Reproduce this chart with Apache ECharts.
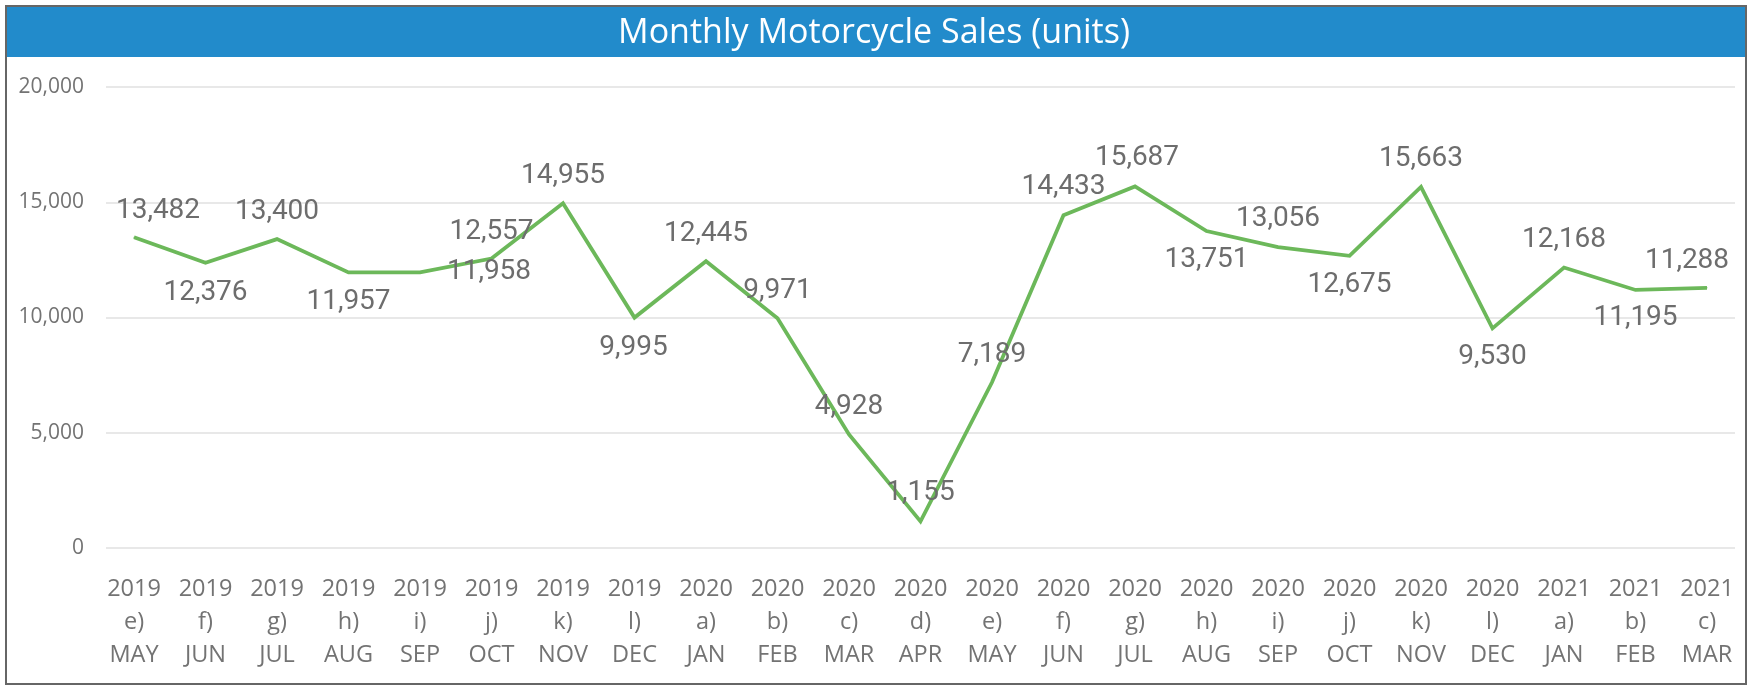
<!DOCTYPE html>
<html>
<head>
<meta charset="utf-8">
<title>Monthly Motorcycle Sales (units)</title>
<script src="https://cdn.jsdelivr.net/npm/echarts@6/dist/echarts.min.js"></script>
<style>
  html, body { margin: 0; padding: 0; background: #fff; }
  #chart { width: 1748px; height: 686px; }
</style>
</head>
<body>
<div id="chart"></div>
<script>
// month axis, three rows per tick
const years = ['2019', '2019', '2019', '2019', '2019', '2019', '2019', '2019',
  '2020', '2020', '2020', '2020', '2020', '2020', '2020', '2020', '2020', '2020', '2020', '2020',
  '2021', '2021', '2021'];
const codes = ['e)', 'f)', 'g)', 'h)', 'i)', 'j)', 'k)', 'l)',
  'a)', 'b)', 'c)', 'd)', 'e)', 'f)', 'g)', 'h)', 'i)', 'j)', 'k)', 'l)',
  'a)', 'b)', 'c)'];
const months = ['MAY', 'JUN', 'JUL', 'AUG', 'SEP', 'OCT', 'NOV', 'DEC',
  'JAN', 'FEB', 'MAR', 'APR', 'MAY', 'JUN', 'JUL', 'AUG', 'SEP', 'OCT', 'NOV', 'DEC',
  'JAN', 'FEB', 'MAR'];

const sales = [13482, 12376, 13400, 11957, 11958, 12557, 14955, 9995,
  12445, 9971, 4928, 1155, 7189, 14433, 15687, 13751, 13056, 12675, 15663, 9530,
  12168, 11195, 11288];

const yTicks = [0, 5000, 10000, 15000, 20000];

// where each data label sits relative to its point (px)
const labelOffsets = [
  [24, -26], [0, 30], [0, -27], [0, 30], [69, 0], [0, -27], [0, -27], [-1, 30],
  [0, -27], [0, -27], [0, -27], [0, -28], [0, -27], [0, -28], [2, -28], [0, 29],
  [0, -28], [0, 29], [0, -28], [0, 29], [0, -28], [0, 28], [-20, -27]
];

const fmt = (v) => Number(v).toLocaleString('en-US');
const categories = months.map((m, i) => years[i] + '\n' + codes[i] + '\n' + m);

const chart = echarts.init(document.getElementById('chart'), null, { renderer: 'canvas' });

const option = {
  animation: false,
  backgroundColor: '#ffffff',
  graphic: [
    {
      type: 'rect',
      shape: { x: 7, y: 7, width: 1739, height: 50 },
      style: { fill: '#228bcb' },
      z: 0
    },
    {
      type: 'rect',
      shape: { x: 6, y: 6, width: 1740, height: 678 },
      style: { fill: 'none', stroke: '#666666', lineWidth: 2 },
      z: 10
    },
    {
      type: 'text',
      x: 874,
      y: 33,
      style: {
        text: 'Monthly Motorcycle Sales (units)',
        fill: '#ffffff',
        font: '34px "Open Sans", sans-serif',
        align: 'center',
        verticalAlign: 'middle'
      },
      z: 11
    }
  ],
  grid: [
    { left: 106, right: 13, top: 87, bottom: 138 },
    { left: 134, right: 41, top: 87, bottom: 138 }
  ],
  xAxis: [
    { gridIndex: 0, type: 'value', min: 0, max: 1, show: false },
    {
      gridIndex: 1,
      type: 'category',
      data: categories,
      boundaryGap: false,
      axisLine: { show: false },
      axisTick: { show: false },
      splitLine: { show: false },
      axisLabel: {
        interval: 0,
        margin: 25,
        color: '#737373',
        fontFamily: '"Open Sans", sans-serif',
        fontSize: 23.5,
        lineHeight: 33
      }
    }
  ],
  yAxis: [
    {
      gridIndex: 0,
      type: 'value',
      min: yTicks[0],
      max: yTicks[yTicks.length - 1],
      interval: yTicks[1] - yTicks[0],
      axisLine: { show: false },
      axisTick: { show: false },
      axisLabel: {
        margin: 22,
        color: '#737373',
        fontFamily: '"Open Sans", sans-serif',
        fontSize: 21,
        formatter: fmt
      },
      splitLine: { show: true, lineStyle: { color: '#e8e8e8', width: 2 } }
    },
    {
      gridIndex: 1,
      type: 'value',
      min: yTicks[0],
      max: yTicks[yTicks.length - 1],
      show: false,
      splitLine: { show: false }
    }
  ],
  series: [
    {
      type: 'line',
      xAxisIndex: 1,
      yAxisIndex: 1,
      data: sales.map((v, i) => ({
        value: v,
        label: { offset: labelOffsets[i] }
      })),
      symbol: 'circle',
      symbolSize: 1,
      showSymbol: true,
      itemStyle: { color: '#6cb85a' },
      lineStyle: { color: '#6cb85a', width: 3.8, join: 'miter' },
      label: {
        show: true,
        position: 'inside',
        color: '#6d6d6d',
        fontFamily: 'Roboto, sans-serif',
        fontSize: 28,
        formatter: (p) => fmt(p.value)
      },
      z: 3
    }
  ]
};

chart.setOption(option);
</script>
</body>
</html>
